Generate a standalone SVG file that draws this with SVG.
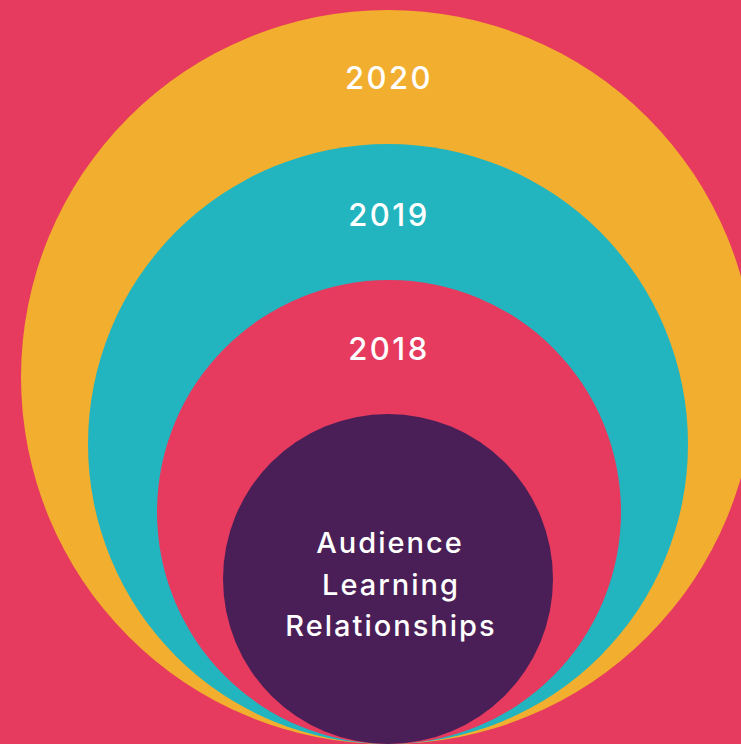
<svg xmlns="http://www.w3.org/2000/svg" width="741" height="744" viewBox="0 0 741 744">
  <style>
    .lbl { font-family: Inter, "Open Sans", "Liberation Sans", sans-serif; font-weight: 500; fill: #FFFFFF; text-anchor: middle; }
    .year { font-size: 31px; letter-spacing: 2.5px; }
    .core { font-size: 29px; letter-spacing: 2px; }
  </style>
  <!-- background -->
  <rect x="0" y="0" width="741" height="744" fill="#E63A5F"/>

  <!-- nested rings, all touching at the bottom -->
  <g id="ring-2020">
    <circle cx="388" cy="377" r="367" fill="#F2AE2E"/>
    <text class="lbl year" x="389" y="89">2020</text>
  </g>
  <g id="ring-2019">
    <circle cx="388" cy="444" r="300" fill="#23B5BF"/>
    <text class="lbl year" x="389" y="226">2019</text>
  </g>
  <g id="ring-2018">
    <circle cx="389" cy="512" r="232" fill="#E63A5F"/>
    <text class="lbl year" x="389" y="360">2018</text>
  </g>
  <g id="core">
    <circle cx="388" cy="579" r="165" fill="#4A1F57"/>
    <text class="lbl core" x="390" y="553">Audience</text>
    <text class="lbl core" x="391" y="595">Learning</text>
    <text class="lbl core" x="391" y="636">Relationships</text>
  </g>
  <g id="connectors"/>
</svg>
